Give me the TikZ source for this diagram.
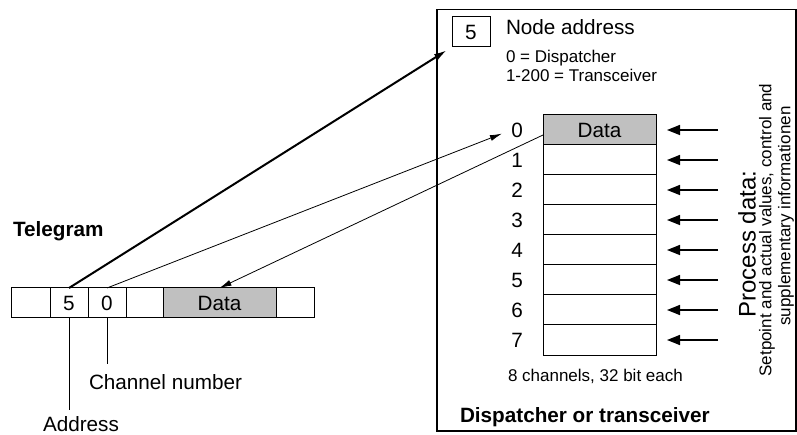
\documentclass[tikz,border=0pt]{standalone}
\usepackage{fontspec}
\setmainfont{Liberation Sans}
\usetikzlibrary{arrows.meta}
\definecolor{cellgray}{HTML}{C0C0C0}
\newcommand\fmain{\fontsize{20.7bp}{24bp}\selectfont}
\newcommand\fsmall{\fontsize{17bp}{20bp}\selectfont}
\newcommand\fproc{\fontsize{24bp}{28bp}\selectfont}
\begin{document}
\begin{tikzpicture}[x=1bp,y=-1bp,
  cell/.style={draw, line width=1bp, minimum height=30bp, inner sep=0pt, outer sep=0pt, font=\fmain},
  gray cell/.style={cell, fill=cellgray},
  lbl/.style={inner sep=0pt, outer sep=0pt, font=\fmain},
  slbl/.style={inner sep=0pt, outer sep=0pt, font=\fsmall},
  ttl/.style={inner sep=0pt, outer sep=0pt, font=\fmain\bfseries},
  thinline/.style={line width=0.8bp},
  thinarrow/.style={thinline, -{Latex[length=12bp,width=6bp]}},
  thickarrow/.style={line width=2bp, -{Latex[length=13bp,width=7bp]}},
  inarrow/.style={line width=1.5bp, -{Triangle[length=13bp,width=10bp]}, shorten >=11bp}]
\useasboundingbox (0,0) rectangle (797,435);

% frame
\node[draw, line width=1.6bp, minimum width=359bp, minimum height=421.5bp, inner sep=0pt, outer sep=0pt] (frame) at (616.5,220.25) {};

% node address box
\node[cell, minimum width=38bp] (box5) at (471,32) {5};
\node[lbl, anchor=base west] (nodeaddr) at (506,35) {Node address};
\node[slbl, anchor=base west] (disp) at (506,63) {0 = Dispatcher};
\node[slbl, anchor=base west] (trans) at (506,82) {1-200 = Transceiver};

% channel table
\node[gray cell, minimum width=113bp] (r0) at (599.5,130) {Data};
\foreach \i in {1,...,7}{
  \node[cell, minimum width=113bp] (r\i) at (599.5,130+30*\i) {};
}
\foreach \i in {0,...,7}{
  \node[lbl] (l\i) at (517,130+30*\i) {\i};
  \coordinate (a\i) at (718,130+30*\i);
  \draw[inarrow] (a\i) -- (r\i.east);
}
\node[slbl, anchor=base west] (chan) at (508,382) {8 channels, 32 bit each};
\node[ttl, anchor=base west] (dispt) at (460,422) {Dispatcher or transceiver};

% process data
\node[rotate=90, inner sep=0pt, font=\fproc] (proc) at (747,244) {Process data:};
\node[rotate=90, inner sep=0pt, font=\fsmall] (setp) at (767,230) {Setpoint and actual values, control and};
\node[rotate=90, inner sep=0pt, font=\fsmall] (supp) at (786,216) {supplementary informationen};

% telegram
\node[ttl, anchor=base west] (tel) at (13,237) {Telegram};
\node[cell, minimum width=38bp] (t1) at (31,303) {};
\node[cell, minimum width=38bp] (t2) at (69,303) {5};
\node[cell, minimum width=38bp] (t3) at (107,303) {0};
\node[cell, minimum width=37bp] (t4) at (144.5,303) {};
\node[gray cell, minimum width=113bp] (t5) at (219.5,303) {Data};
\node[cell, minimum width=38bp] (t6) at (295,303) {};

% connectors
\draw[thickarrow, shorten >=6bp] (t2.north) -- (box5.south west);
\draw[thinarrow, shorten >=10bp] (t3.north) -- (l0.west);
\draw[thinarrow] ([yshift=-5bp]r0.west) -- (t5.north);

% callouts
\coordinate (addrend) at (69,410);
\coordinate (chanend) at (107,364);
\draw[thinline] (t2.south) -- (addrend);
\draw[thinline] (t3.south) -- (chanend);
\node[lbl, anchor=base west] (chanlbl) at (89,389) {Channel number};
\node[lbl, anchor=base west] (addrlbl) at (43,431) {Address};
\end{tikzpicture}
\end{document}
